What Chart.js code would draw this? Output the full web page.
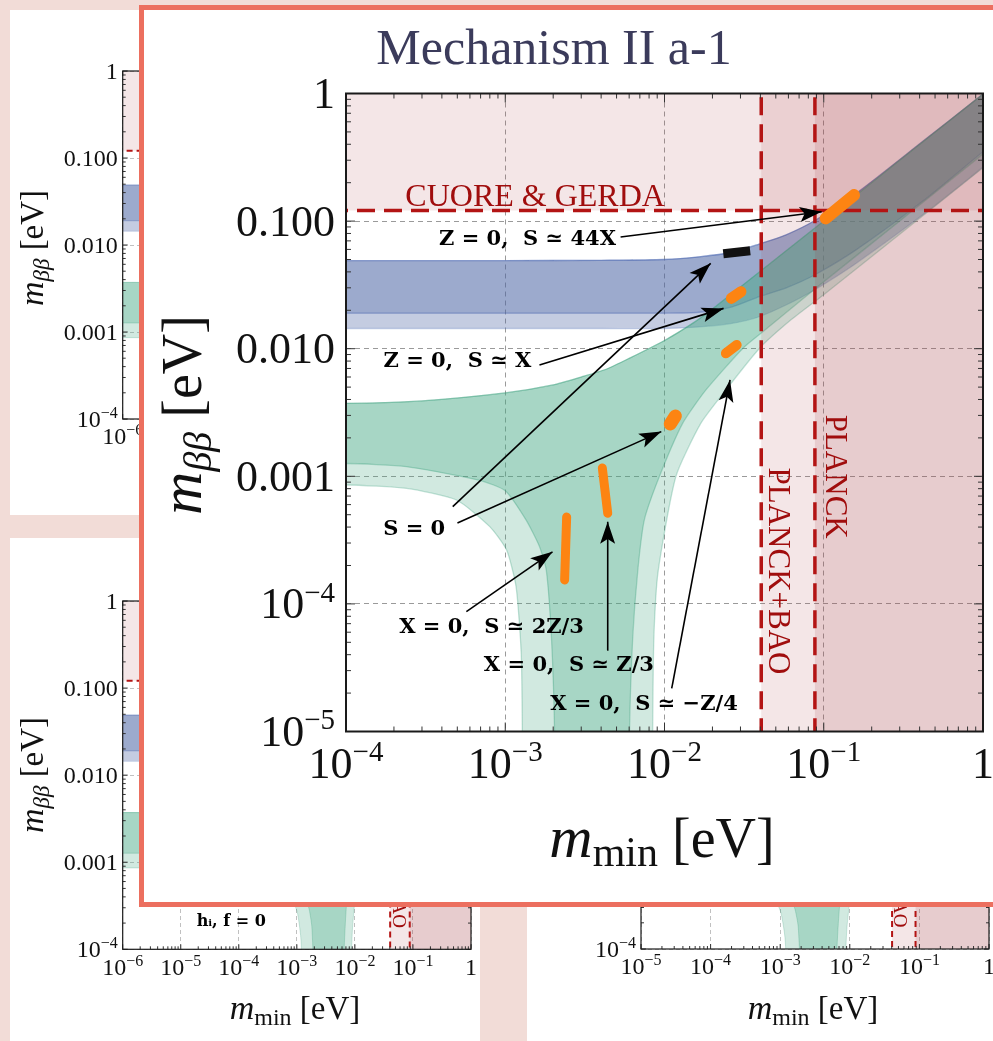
<!DOCTYPE html>
<html>
<head>
<meta charset="utf-8">
<script src="https://cdn.jsdelivr.net/npm/chart.js@4.4.1/dist/chart.umd.min.js"></script>
<style>
  html, body { margin: 0; padding: 0; }
  body { width: 993px; height: 1041px; overflow: hidden; background: #f2dcd7; position: relative; }
  .panel { position: absolute; background: #fff; overflow: hidden; }
  .panel canvas { position: absolute; left: 0; top: 0; }
  #mainBox { position: absolute; left: 139px; top: 5px; width: 900px; height: 902px; box-sizing: border-box;
             border: 5px solid #ec6f5f; background: #fff; overflow: hidden; }
  #mainBox canvas { position: absolute; left: 0; top: 0; }
</style>
</head>
<body>
<div class="panel" style="left:10px;top:10px;width:480px;height:505px"><canvas id="tl"></canvas></div>
<div class="panel" style="left:10px;top:538px;width:470px;height:503px"><canvas id="bl"></canvas></div>
<div class="panel" style="left:527px;top:538px;width:480px;height:503px"><canvas id="br"></canvas></div>
<div id="mainBox"><canvas id="main"></canvas></div>

<script>
// ---- axes ----
const xTickVals = [1e-4, 1e-3, 1e-2, 1e-1, 1];
const xTickLabels = ['10^-4', '10^-3', '10^-2', '10^-1', '1'];
const yTickVals = [1e-5, 1e-4, 1e-3, 1e-2, 1e-1, 1];
const yTickLabels = ['10^-5', '10^-4', '0.001', '0.010', '0.100', '1'];
const bgXTickVals = [1e-6, 1e-5, 1e-4, 1e-3, 1e-2, 1e-1, 1];
const bgXTickLabels = ['10^-6', '10^-5', '10^-4', '10^-3', '10^-2', '10^-1', '1'];
const brXTickVals = [1e-5, 1e-4, 1e-3, 1e-2, 1e-1, 1];
const brXTickLabels = ['10^-5', '10^-4', '10^-3', '10^-2', '10^-1', '1'];
const bgYTickVals = [1e-4, 1e-3, 1e-2, 1e-1, 1];
const bgYTickLabels = ['10^-4', '0.001', '0.010', '0.100', '1'];

// ---- experimental limits (eV) ----
const cuoreLimit = 0.121;
const planckBaoLimit = 0.0405;
const planckLimit = 0.088;

// ---- inverted ordering band ----
const ioX = [1e-7, 1e-3, 4e-3, 1e-2, 1.65e-2, 2.66e-2, 3.93e-2, 5.8e-2, 8.8e-2, 0.161, 0.423, 1, 2];
const ioUpper = [0.049, 0.049, 0.0493, 0.05, 0.0525, 0.057, 0.066, 0.078, 0.101, 0.166, 0.426, 0.99, 1.98];
const ioDarkLower = [0.019, 0.019, 0.019, 0.019, 0.0193, 0.0213, 0.0256, 0.030, 0.038, 0.06, 0.145, 0.35, 0.70];
const ioLightLower = [0.0144, 0.0144, 0.0144, 0.0144, 0.0148, 0.0158, 0.0178, 0.022, 0.029, 0.047, 0.113, 0.265, 0.53];

// ---- normal ordering band ----
const noUpperX = [1e-7, 1e-4, 3e-4, 1e-3, 2e-3, 3e-3, 4.3e-3, 6e-3, 1e-2, 1.5e-2, 2e-2, 3e-2, 5e-2, 0.1, 0.3, 1, 2];
const noUpperY = [0.00372, 0.00373, 0.0039, 0.0045, 0.0052, 0.006, 0.0069, 0.0084, 0.0116, 0.0158, 0.0205, 0.0305, 0.0505, 0.1, 0.3, 0.99, 1.98];
const noDarkLowX = [1e-7, 1e-4, 2.4e-4, 6.9e-4, 1e-3, 1.35e-3, 1.64e-3, 1.81e-3, 1.95e-3, 2.04e-3, 2.06e-3,
                    6.0e-3, 6.03e-3, 6.32e-3, 6.8e-3, 7.47e-3, 9.3e-3, 1.3e-2, 1.82e-2, 3.09e-2, 4.0e-2, 0.1, 0.3, 1, 2];
const noDarkLowY = [0.00127, 0.00126, 0.00119, 0.00093, 0.00077, 0.000455, 0.000282, 0.000184, 5.5e-5, 1e-5, 1e-6,
                    1e-6, 1e-5, 5.5e-5, 1.84e-4, 4.55e-4, 0.001, 0.0026, 0.00475, 0.01, 0.0131, 0.0335, 0.1, 0.335, 0.67];
const noLightLowX = [1e-7, 1e-4, 2.4e-4, 4.94e-4, 8e-4, 1.02e-3, 1.17e-3, 1.26e-3, 1.28e-3, 1.29e-3,
                     8.4e-3, 8.43e-3, 8.58e-3, 9.12e-3, 1.18e-2, 1.69e-2, 2.43e-2, 3.93e-2, 6.15e-2, 0.1, 0.3, 1, 2];
const noLightLowY = [0.00086, 0.000855, 0.000805, 0.000652, 0.000403, 0.000264, 0.000136, 4.1e-5, 1e-5, 1e-6,
                     1e-6, 1e-5, 5.5e-5, 1.8e-4, 0.001, 0.0026, 0.00475, 0.01, 0.0166, 0.0265, 0.079, 0.262, 0.524];

// ---- model points (orange) and the S=0 point (black) ----
const markX0 = [0.1028, 0.0263, 0.0243, 0.01087, 0.0044, 0.00236, 0.0234];
const markY0 = [0.105, 0.0248, 0.0092, 0.00257, 0.000513, 0.000154, 0.0555];
const markX1 = [0.155, 0.0302, 0.0284, 0.0117, 0.00407, 0.00243, 0.0345];
const markY1 = [0.160, 0.028, 0.0107, 0.00297, 0.00116, 0.00048, 0.0585];
const markColors = ['#fd8412', '#fd8412', '#fd8412', '#fd8412', '#fd8412', '#fd8412', '#111111'];
const markWidths = [12, 11, 10, 13, 9, 9, 9];

// ---- annotations ----
const labelTexts = ['Z = 0,  S \u2243 44X', 'Z = 0,  S \u2243 X', 'S = 0', 'X = 0,  S \u2243 2Z/3', 'X = 0,  S \u2243 Z/3', 'X = 0,  S \u2243 \u2212Z/4'];
const labelX = [0.00138, 0.000501, 0.000268, 0.00082, 0.00251, 0.00743];
const labelY = [0.0711, 0.00787, 0.000386, 6.47e-5, 3.26e-5, 1.64e-5];
const arrowFromX = [0.0053, 0.00164, 0.000468, 0.000501, 0.00057, 0.00436, 0.0111];
const arrowFromY = [0.075, 0.00745, 0.000578, 0.00043, 8.7e-5, 4.35e-5, 2.18e-5];
const arrowToX = [0.097, 0.0235, 0.0195, 0.00955, 0.00198, 0.0044, 0.0258];
const arrowToY = [0.1185, 0.0207, 0.0467, 0.00224, 0.000256, 0.00044, 0.00569];
const limitTexts = ['PLANCK+BAO', 'PLANCK'];
const limitTextX = [0.0508, 0.1167];
const limitTextY = [1.81e-4, 9.93e-4];
const cuoreText = 'CUORE & GERDA';
const cuoreTextX = 0.00154;
const cuoreTextY = 0.1313;
const yTitleParts = ['m', '\u03b2\u03b2', ' [eV]'];
const xTitleParts = ['m', 'min', ' [eV]'];
const chartTitle = 'Mechanism II a-1';
const bgBaoTextX = { bl: 0.0547, br: 0.0501 };
const bgBaoTextY = { bl: 9.4e-4, br: 9.5e-4 };
const hLabel = 'h\u1d62, f = 0';
const hLabelX = 7.4e-5;
const hLabelY = 2.04e-4;

const SERIF = '"Liberation Serif", "Times New Roman", serif';

function pts(xs, ys) { return xs.map((x, i) => ({ x: x, y: ys[i] })); }
function poly(ux, uy, lx, ly) { return pts(ux, uy).concat(pts(lx, ly).reverse()); }
function rect(x0, x1, y0, y1) { return [{ x: x0, y: y0 }, { x: x1, y: y0 }, { x: x1, y: y1 }, { x: x0, y: y1 }]; }

function minorTicks(min, max) {
    const out = [];
    for (let e = Math.floor(Math.log10(min)); e < Math.ceil(Math.log10(max)); e++) {
        for (let k = 2; k <= 9; k++) {
            const v = k * Math.pow(10, e);
            if (v > min && v < max) out.push(v);
        }
    }
    return out;
}

function drawPowLabel(ctx, label, x, y, size, align) {
    const parts = label.split('^');
    const base = parts[0];
    const exp = parts[1] ? parts[1].replace('-', '\u2212') : '';
    const es = Math.round(size * 0.66);
    ctx.font = size + 'px ' + SERIF;
    const wb = ctx.measureText(base).width;
    let we = 0;
    if (exp) { ctx.font = es + 'px ' + SERIF; we = ctx.measureText(exp).width; }
    const w = wb + we;
    const x0 = align === 'right' ? x - w : (align === 'center' ? x - w / 2 : x);
    ctx.textAlign = 'left';
    ctx.textBaseline = 'alphabetic';
    ctx.font = size + 'px ' + SERIF;
    ctx.fillText(base, x0, y);
    if (exp) { ctx.font = es + 'px ' + SERIF; ctx.fillText(exp, x0 + wb, y - size * 0.38); }
}

function drawRuns(ctx, runs, x, y, rot) {
    let w = 0;
    const ws = runs.map(r => { ctx.font = r.font; const m = ctx.measureText(r.text).width; w += m; return m; });
    ctx.save();
    ctx.translate(x, y);
    ctx.rotate(rot);
    ctx.textAlign = 'left';
    ctx.textBaseline = 'alphabetic';
    let cx = -w / 2;
    runs.forEach((r, i) => { ctx.font = r.font; ctx.fillText(r.text, cx, r.dy); cx += ws[i]; });
    ctx.restore();
}

function titleRuns(parts, t) {
    return [
        { text: parts[0], font: 'italic ' + t.big + 'px ' + SERIF, dy: 0 },
        { text: parts[1], font: (parts[1] === 'min' ? '' : 'italic ') + t.sub + 'px ' + SERIF, dy: t.dy },
        { text: parts[2], font: t.br + 'px ' + SERIF, dy: 0 }
    ];
}

function arrowHead(ctx, x0, y0, x1, y1, len, half) {
    const ang = Math.atan2(y1 - y0, x1 - x0);
    ctx.save();
    ctx.translate(x1, y1);
    ctx.rotate(ang);
    ctx.beginPath();
    ctx.moveTo(0, 0);
    ctx.lineTo(-len, -half);
    ctx.lineTo(-len * 0.78, 0);
    ctx.lineTo(-len, half);
    ctx.closePath();
    ctx.fill();
    ctx.restore();
}

const settings = {
    main: { full: true, w: 860, h: 892, xMin: 1e-4, xMax: 1, yMin: 1e-5, yMax: 1,
            padTop: 83.5, padRight: 21, yW: 202, xH: 170.5,
            xTicks: xTickVals, xLabels: xTickLabels, yTicks: yTickVals, yLabels: yTickLabels,
            tick: 44, yPad: 11, frame: 2, minor: 5, major: 9, lw: 1.3, grid: 'rgba(120,120,120,0.75)', dash: [5, 4],
            yTitle: { x: 57, y: 405, big: 60, sub: 40, br: 56, dy: 10 },
            xTitle: { x: 518, y: 847, big: 60, sub: 42, br: 56, dy: 9 } },
    tl: { full: false, w: 480, h: 505, xMin: 1e-6, xMax: 1, yMin: 1e-4, yMax: 1,
          padTop: 61, padRight: 19, yW: 112.7, xH: 96,
          xTicks: bgXTickVals, xLabels: bgXTickLabels, yTicks: bgYTickVals, yLabels: bgYTickLabels,
          tick: 24, yPad: 5, frame: 1.2, minor: 3, major: 5, lw: 0.8, grid: 'rgba(150,150,150,0.6)', dash: [4, 3],
          yTitle: { x: 33, y: 238, big: 34, sub: 23, br: 33, dy: 6 },
          xTitle: { x: 285, y: 483, big: 34, sub: 24, br: 33, dy: 6 } },
    bl: { full: false, w: 470, h: 503, xMin: 1e-6, xMax: 1, yMin: 1e-4, yMax: 1,
          padTop: 63, padRight: 9, yW: 112.7, xH: 91.7,
          xTicks: bgXTickVals, xLabels: bgXTickLabels, yTicks: bgYTickVals, yLabels: bgYTickLabels,
          tick: 24, yPad: 5, frame: 1.2, minor: 3, major: 5, lw: 0.8, grid: 'rgba(150,150,150,0.6)', dash: [4, 3],
          yTitle: { x: 33, y: 237, big: 34, sub: 23, br: 33, dy: 6 },
          xTitle: { x: 285, y: 481, big: 34, sub: 24, br: 33, dy: 6 } },
    br: { full: false, w: 480, h: 503, xMin: 1e-5, xMax: 1, yMin: 1e-4, yMax: 1,
          padTop: 63, padRight: 18, yW: 114, xH: 92,
          xTicks: brXTickVals, xLabels: brXTickLabels, yTicks: bgYTickVals, yLabels: bgYTickLabels,
          tick: 24, yPad: 5, frame: 1.2, minor: 3, major: 5, lw: 0.8, grid: 'rgba(150,150,150,0.6)', dash: [4, 3],
          yTitle: { x: 33, y: 237, big: 34, sub: 23, br: 33, dy: 6 },
          xTitle: { x: 286, y: 481, big: 34, sub: 24, br: 33, dy: 6 } }
};

const decoPlugin = {
    id: 'deco',
    afterDatasetsDraw(chart) {
        const s = settings[chart.canvas.id];
        const ctx = chart.ctx;
        const a = chart.chartArea;
        const xs = chart.scales.x, ys = chart.scales.y;
        ctx.save();
        if (s.full) {
            ctx.fillStyle = '#000';
            arrowToX.forEach((_, i) => {
                arrowHead(ctx, xs.getPixelForValue(arrowFromX[i]), ys.getPixelForValue(arrowFromY[i]),
                          xs.getPixelForValue(arrowToX[i]), ys.getPixelForValue(arrowToY[i]), 22, 7.5);
            });
        }
        ctx.strokeStyle = '#333';
        ctx.lineWidth = 1;
        ctx.beginPath();
        minorTicks(xs.min, xs.max).forEach(v => {
            const p = xs.getPixelForValue(v);
            ctx.moveTo(p, a.bottom); ctx.lineTo(p, a.bottom - s.minor);
            ctx.moveTo(p, a.top); ctx.lineTo(p, a.top + s.minor);
        });
        s.xTicks.forEach(v => {
            const p = xs.getPixelForValue(v);
            ctx.moveTo(p, a.bottom); ctx.lineTo(p, a.bottom - s.major);
            ctx.moveTo(p, a.top); ctx.lineTo(p, a.top + s.major);
        });
        minorTicks(ys.min, ys.max).forEach(v => {
            const p = ys.getPixelForValue(v);
            ctx.moveTo(a.left, p); ctx.lineTo(a.left + s.minor, p);
            ctx.moveTo(a.right, p); ctx.lineTo(a.right - s.minor, p);
        });
        s.yTicks.forEach(v => {
            const p = ys.getPixelForValue(v);
            ctx.moveTo(a.left, p); ctx.lineTo(a.left + s.major, p);
            ctx.moveTo(a.right, p); ctx.lineTo(a.right - s.major, p);
        });
        ctx.stroke();
        ctx.lineWidth = s.frame;
        ctx.strokeStyle = '#1a1a1a';
        ctx.strokeRect(a.left, a.top, a.right - a.left, a.bottom - a.top);
        ctx.restore();
    },
    afterDraw(chart) {
        const s = settings[chart.canvas.id];
        const id = chart.canvas.id;
        const ctx = chart.ctx;
        const a = chart.chartArea;
        const xs = chart.scales.x, ys = chart.scales.y;
        ctx.save();
        ctx.fillStyle = '#111';
        s.xTicks.forEach((v, i) => drawPowLabel(ctx, s.xLabels[i], xs.getPixelForValue(v), a.bottom + s.tick * 1.06, s.tick, 'center'));
        s.yTicks.forEach((v, i) => drawPowLabel(ctx, s.yLabels[i], a.left - s.yPad, ys.getPixelForValue(v) + s.tick * 0.33, s.tick, 'right'));
        drawRuns(ctx, titleRuns(yTitleParts, s.yTitle), s.yTitle.x, s.yTitle.y, -Math.PI / 2);
        drawRuns(ctx, titleRuns(xTitleParts, s.xTitle), s.xTitle.x, s.xTitle.y, 0);

        if (s.full) {
            ctx.fillStyle = '#3b3b5b';
            ctx.font = '50px ' + SERIF;
            ctx.textAlign = 'center';
            ctx.textBaseline = 'alphabetic';
            ctx.fillText(chartTitle, 410, 54);

            ctx.fillStyle = '#000';
            ctx.font = 'bold 21px "DejaVu Serif", serif';
            ctx.textBaseline = 'middle';
            labelTexts.forEach((t, i) => ctx.fillText(t, xs.getPixelForValue(labelX[i]), ys.getPixelForValue(labelY[i])));

            ctx.fillStyle = '#a00d0d';
            ctx.font = '32px ' + SERIF;
            ctx.textBaseline = 'alphabetic';
            ctx.fillText(cuoreText, xs.getPixelForValue(cuoreTextX), ys.getPixelForValue(cuoreTextY));
            ctx.font = '31px ' + SERIF;
            ctx.textBaseline = 'middle';
            limitTexts.forEach((t, i) => {
                ctx.save();
                ctx.translate(xs.getPixelForValue(limitTextX[i]), ys.getPixelForValue(limitTextY[i]));
                ctx.rotate(Math.PI / 2);
                ctx.fillText(t, 0, 0);
                ctx.restore();
            });
        } else {
            if (bgBaoTextX[id]) {
                ctx.fillStyle = '#a00d0d';
                ctx.font = '19px ' + SERIF;
                ctx.textAlign = 'center';
                ctx.textBaseline = 'middle';
                ctx.save();
                ctx.translate(xs.getPixelForValue(bgBaoTextX[id]), ys.getPixelForValue(bgBaoTextY[id]));
                ctx.rotate(Math.PI / 2);
                ctx.fillText(limitTexts[0], 0, 0);
                ctx.restore();
            }
            if (id === 'bl') {
                ctx.fillStyle = '#000';
                ctx.font = 'bold 16px "DejaVu Serif", serif';
                ctx.textAlign = 'center';
                ctx.textBaseline = 'middle';
                ctx.fillText(hLabel, xs.getPixelForValue(hLabelX), ys.getPixelForValue(hLabelY));
            }
        }
        ctx.restore();
    }
};

function buildDatasets(s) {
    const ds = [];
    const area = (data, bg, order, line, tension) => ({
        data: data, fill: 'shape', backgroundColor: bg,
        borderColor: line || 'rgba(0,0,0,0)', borderWidth: line ? s.lw : 0,
        tension: tension || 0, capBezierPoints: false, pointRadius: 0, order: order
    });
    // bands first, excluded regions laid over them
    ds.push(area(poly(ioX, ioUpper, ioX, ioLightLower), 'rgba(75,100,165,0.33)', 25, 'rgba(90,120,190,0.3)', 0.25));
    ds.push(area(poly(ioX, ioUpper, ioX, ioDarkLower), 'rgba(75,100,165,0.33)', 24, 'rgba(70,100,175,0.45)', 0.25));
    ds.push(area(poly(noUpperX, noUpperY, noLightLowX, noLightLowY), 'rgba(70,168,132,0.25)', 23, 'rgba(60,160,125,0.3)', 0.2));
    ds.push(area(poly(noUpperX, noUpperY, noDarkLowX, noDarkLowY), 'rgba(70,168,132,0.3)', 22, 'rgba(60,160,125,0.35)', 0.2));
    ds.push(area(rect(1e-8, 10, cuoreLimit, 10), 'rgba(170,60,70,0.13)', 20));
    ds.push(area(rect(planckBaoLimit, 10, 1e-8, 10), 'rgba(170,60,70,0.13)', 19));
    ds.push(area(rect(planckLimit, 10, 1e-8, 10), 'rgba(160,60,70,0.15)', 18));

    const dashLine = data => ({
        data: data, borderColor: '#b31414', borderWidth: s.full ? 3.5 : 2,
        borderDash: s.full ? [18, 9] : [6, 4], fill: false, pointRadius: 0, order: 15
    });
    ds.push(dashLine([{ x: 1e-8, y: cuoreLimit }, { x: 10, y: cuoreLimit }]));
    ds.push(dashLine([{ x: planckBaoLimit, y: 1e-8 }, { x: planckBaoLimit, y: 10 }]));
    ds.push(dashLine([{ x: planckLimit, y: 1e-8 }, { x: planckLimit, y: 10 }]));

    if (s.full) {
        arrowFromX.forEach((_, i) => ds.push({
            data: [{ x: arrowFromX[i], y: arrowFromY[i] }, { x: arrowToX[i], y: arrowToY[i] }],
            borderColor: '#000', borderWidth: 1.6, fill: false, pointRadius: 0, order: 10
        }));
        markX0.forEach((_, i) => ds.push({
            data: [{ x: markX0[i], y: markY0[i] }, { x: markX1[i], y: markY1[i] }],
            borderColor: markColors[i], borderWidth: markWidths[i],
            borderCapStyle: markColors[i] === '#111111' ? 'butt' : 'round',
            fill: false, pointRadius: 0, order: 5
        }));
    }
    return ds;
}

function makeChart(id) {
    const s = settings[id];
    const cv = document.getElementById(id);
    cv.width = s.w;
    cv.height = s.h;
    cv.style.width = s.w + 'px';
    cv.style.height = s.h + 'px';
    return new Chart(cv, {
        type: 'line',
        data: { datasets: buildDatasets(s) },
        options: {
            responsive: false,
            animation: false,
            events: [],
            layout: { padding: { left: 0, top: s.padTop, right: s.padRight, bottom: 0 } },
            plugins: { legend: { display: false }, tooltip: { enabled: false }, title: { display: false } },
            elements: { point: { radius: 0 } },
            scales: {
                x: {
                    type: 'logarithmic', min: s.xMin, max: s.xMax,
                    afterBuildTicks: scale => { scale.ticks = s.xTicks.map(v => ({ value: v })); },
                    afterFit: scale => { scale.height = s.xH; },
                    ticks: { display: false },
                    grid: { color: s.grid, lineWidth: 1, drawTicks: false },
                    border: { display: false, dash: s.dash }
                },
                y: {
                    type: 'logarithmic', min: s.yMin, max: s.yMax,
                    afterBuildTicks: scale => { scale.ticks = s.yTicks.map(v => ({ value: v })); },
                    afterFit: scale => { scale.width = s.yW; },
                    ticks: { display: false },
                    grid: { color: s.grid, lineWidth: 1, drawTicks: false },
                    border: { display: false, dash: s.dash }
                }
            }
        },
        plugins: [decoPlugin]
    });
}

document.addEventListener('DOMContentLoaded', function() {
    ['tl', 'bl', 'br', 'main'].forEach(makeChart);
});
</script>
</body>
</html>
